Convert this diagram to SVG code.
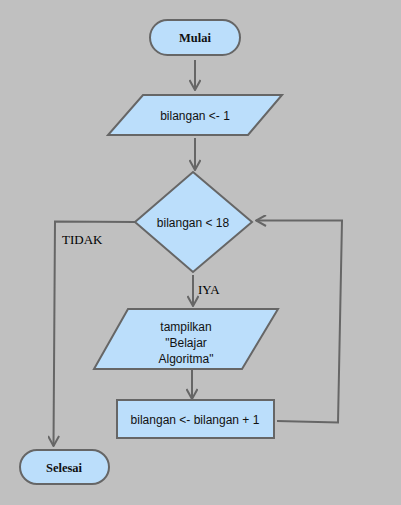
<svg xmlns="http://www.w3.org/2000/svg" width="401" height="505" viewBox="0 0 401 505">
<defs>
<style>
.n{fill:#bbdefb;stroke:#666;stroke-width:2}
.c{fill:none;stroke:#666;stroke-width:2}
.s{font-family:"Liberation Sans",Arial,sans-serif;font-size:12px;fill:#111;text-anchor:middle}
.r{font-family:"Liberation Serif","Times New Roman",serif;font-size:12.5px;fill:#111;text-anchor:middle}
.l{font-family:"Liberation Serif","Times New Roman",serif;font-size:13px;fill:#000}
</style>
<marker id="a" viewBox="0 0 12 12" refX="11" refY="6" markerWidth="12" markerHeight="12" markerUnits="userSpaceOnUse" orient="auto">
<path d="M1,0.5 L11,6 L1,11.5" fill="none" stroke="#666" stroke-width="2"/>
</marker>
</defs>
<rect width="401" height="505" fill="#c0c0c0"/>
<g id="connectors">
<line class="c" x1="195" y1="60" x2="195" y2="90" marker-end="url(#a)"/>
<line class="c" x1="195" y1="138" x2="195" y2="170" marker-end="url(#a)"/>
<polyline class="c" points="135,222 55,221.5 53.5,446" marker-end="url(#a)"/>
<line class="c" x1="193" y1="275" x2="193" y2="306" marker-end="url(#a)"/>
<line class="c" x1="192" y1="370" x2="192" y2="399" marker-end="url(#a)"/>
<polyline class="c" points="277,421 338,422.5 342,220.5 256,220.5" marker-end="url(#a)"/>
</g>
<g id="labels">
<text class="l" x="62" y="244">TIDAK</text>
<text class="l" x="198" y="294">IYA</text>
</g>
<g id="mulai">
<rect class="n" x="150" y="20" width="90" height="35" rx="17.5"/>
<text class="r" x="195" y="42" font-weight="bold">Mulai</text>
</g>
<g id="init">
<polygon class="n" points="143,95 282,95 248,135 108,135"/>
<text class="s" x="195" y="120">bilangan &lt;- 1</text>
</g>
<g id="cond">
<polygon class="n" points="193,172 252,222 193,272 135,222"/>
<text class="s" x="193" y="227">bilangan &lt; 18</text>
</g>
<g id="output">
<polygon class="n" points="128,309 278,309 242,369 94,369"/>
<text class="s" x="186" y="331">tampilkan</text>
<text class="s" x="186" y="347">"Belajar</text>
<text class="s" x="186" y="363">Algoritma"</text>
</g>
<g id="incr">
<rect class="n" x="117" y="400" width="157" height="38"/>
<text class="s" x="195" y="424">bilangan &lt;- bilangan + 1</text>
</g>
<g id="selesai">
<rect class="n" x="20" y="450" width="89" height="34" rx="17"/>
<text class="r" x="64" y="472" font-weight="bold">Selesai</text>
</g>
</svg>
